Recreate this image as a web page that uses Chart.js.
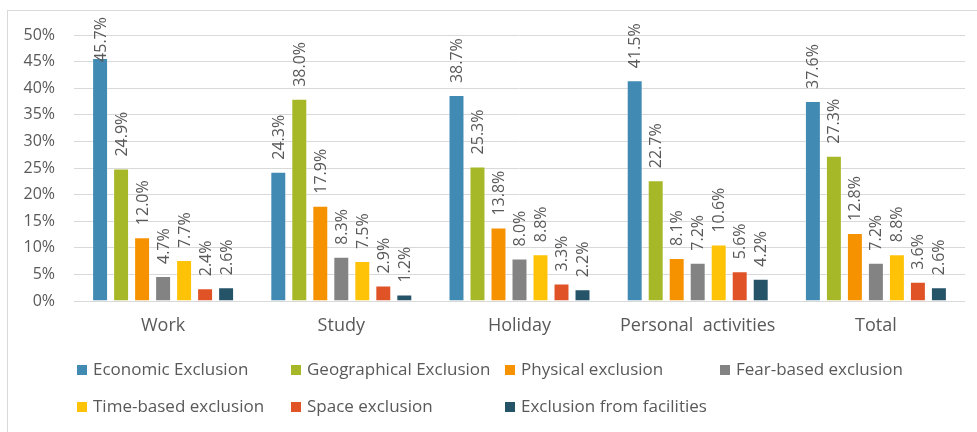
<!DOCTYPE html>
<html>
<head>
<meta charset="utf-8">
<script src="https://cdn.jsdelivr.net/npm/chart.js@4.4.1/dist/chart.umd.min.js"></script>
<style>
    html, body { margin: 0; padding: 0; background: #fff; }
    #wrap { position: relative; width: 977px; height: 432px; overflow: hidden; }
    #frame { position: absolute; left: 7px; top: 10px; width: 1000px; height: 500px; border: 1px solid #d9d9d9; box-sizing: border-box; }
    #chart { position: absolute; left: 0; top: 0; }
</style>
</head>
<body>
<div id="wrap">
    <div id="frame"></div>
    <canvas id="chart" width="977" height="432"></canvas>
</div>
<script>
// Exclusion types by purpose of trip (share of respondents, %)
var categories = ['Work', 'Study', 'Holiday', 'Personal  activities', 'Total'];
var seriesNames = ['Economic Exclusion', 'Geographical Exclusion', 'Physical exclusion', 'Fear-based exclusion',
    'Time-based exclusion', 'Space exclusion', 'Exclusion from facilities'];
var seriesColors = ['#418ab3', '#a6b727', '#f69200', '#838383', '#fec306', '#df5327', '#255368'];

var economic      = [45.7, 24.3, 38.7, 41.5, 37.6];
var geographical  = [24.9, 38.0, 25.3, 22.7, 27.3];
var physical      = [12.0, 17.9, 13.8, 8.1, 12.8];
var fearBased     = [4.7, 8.3, 8.0, 7.2, 7.2];
var timeBased     = [7.7, 7.5, 8.8, 10.6, 8.8];
var space         = [2.4, 2.9, 3.3, 5.6, 3.6];
var facilities    = [2.6, 1.2, 2.2, 4.2, 2.6];

var yTicks = [0, 5, 10, 15, 20, 25, 30, 35, 40, 45, 50];

var allSeries = [economic, geographical, physical, fearBased, timeBased, space, facilities];
var FONT = '"Open Sans", sans-serif';
var TEXT = '#595959';

var datasets = [];
for (var i = 0; i < allSeries.length; i++) {
    datasets.push({
        label: seriesNames[i],
        data: allSeries[i],
        backgroundColor: seriesColors[i],
        borderColor: 'rgba(255,255,255,0.35)',
        borderWidth: 1,
        barPercentage: 0.76,
        categoryPercentage: 0.825
    });
}

// vertical value labels above each bar, kept inside the top of the chart
var barLabels = {
    id: 'barLabels',
    afterDatasetsDraw: function (chart) {
        var ctx = chart.ctx;
        ctx.save();
        ctx.font = '16px ' + FONT;
        ctx.fillStyle = TEXT;
        ctx.textAlign = 'left';
        ctx.textBaseline = 'middle';
        chart.data.datasets.forEach(function (ds, di) {
            var meta = chart.getDatasetMeta(di);
            meta.data.forEach(function (bar, j) {
                var txt = ds.data[j].toFixed(1) + '%';
                var w = ctx.measureText(txt).width;
                var start = bar.y - 12;
                if (start - w < 17) start = 17 + w;
                ctx.save();
                ctx.translate(bar.x + 1, start);
                ctx.rotate(-Math.PI / 2);
                ctx.fillText(txt, 0, 0);
                ctx.restore();
            });
        });
        ctx.restore();
    }
};

// legend laid out as a fixed grid of four columns
var gridLegend = {
    id: 'gridLegend',
    afterDraw: function (chart) {
        var ctx = chart.ctx;
        var colX = [77, 291, 505, 720];
        var rowY = [370, 407];
        ctx.save();
        ctx.font = '17px ' + FONT;
        ctx.textAlign = 'left';
        ctx.textBaseline = 'middle';
        for (var k = 0; k < seriesNames.length; k++) {
            var x = colX[k % 4];
            var y = rowY[Math.floor(k / 4)];
            ctx.fillStyle = seriesColors[k];
            ctx.fillRect(x, y - 5, 10, 10);
            ctx.fillStyle = TEXT;
            ctx.fillText(seriesNames[k], x + 16, y);
        }
        ctx.restore();
    }
};

var chart = new Chart(document.getElementById('chart'), {
    type: 'bar',
    data: { labels: categories, datasets: datasets },
    options: {
        responsive: false,
        animation: false,
        layout: { padding: { top: 35, right: 12, left: 0, bottom: 0 } },
        plugins: { legend: { display: false }, tooltip: { enabled: false } },
        scales: {
            x: {
                grid: { display: false, drawTicks: false },
                border: { display: false },
                ticks: { color: TEXT, font: { family: FONT, size: 18 }, padding: 14 },
                afterFit: function (s) { s.height = 131; }
            },
            y: {
                min: 0,
                max: 50,
                afterBuildTicks: function (s) {
                    s.ticks = yTicks.map(function (v) { return { value: v }; });
                },
                grid: { color: '#d9d9d9', lineWidth: 1, drawTicks: false },
                border: { display: false },
                ticks: {
                    color: TEXT,
                    font: { family: FONT, size: 16 },
                    padding: 19,
                    callback: function (v) { return v + '%'; }
                },
                afterFit: function (s) { s.width = 74; }
            }
        }
    },
    plugins: [barLabels, gridLegend]
});
</script>
</body>
</html>
